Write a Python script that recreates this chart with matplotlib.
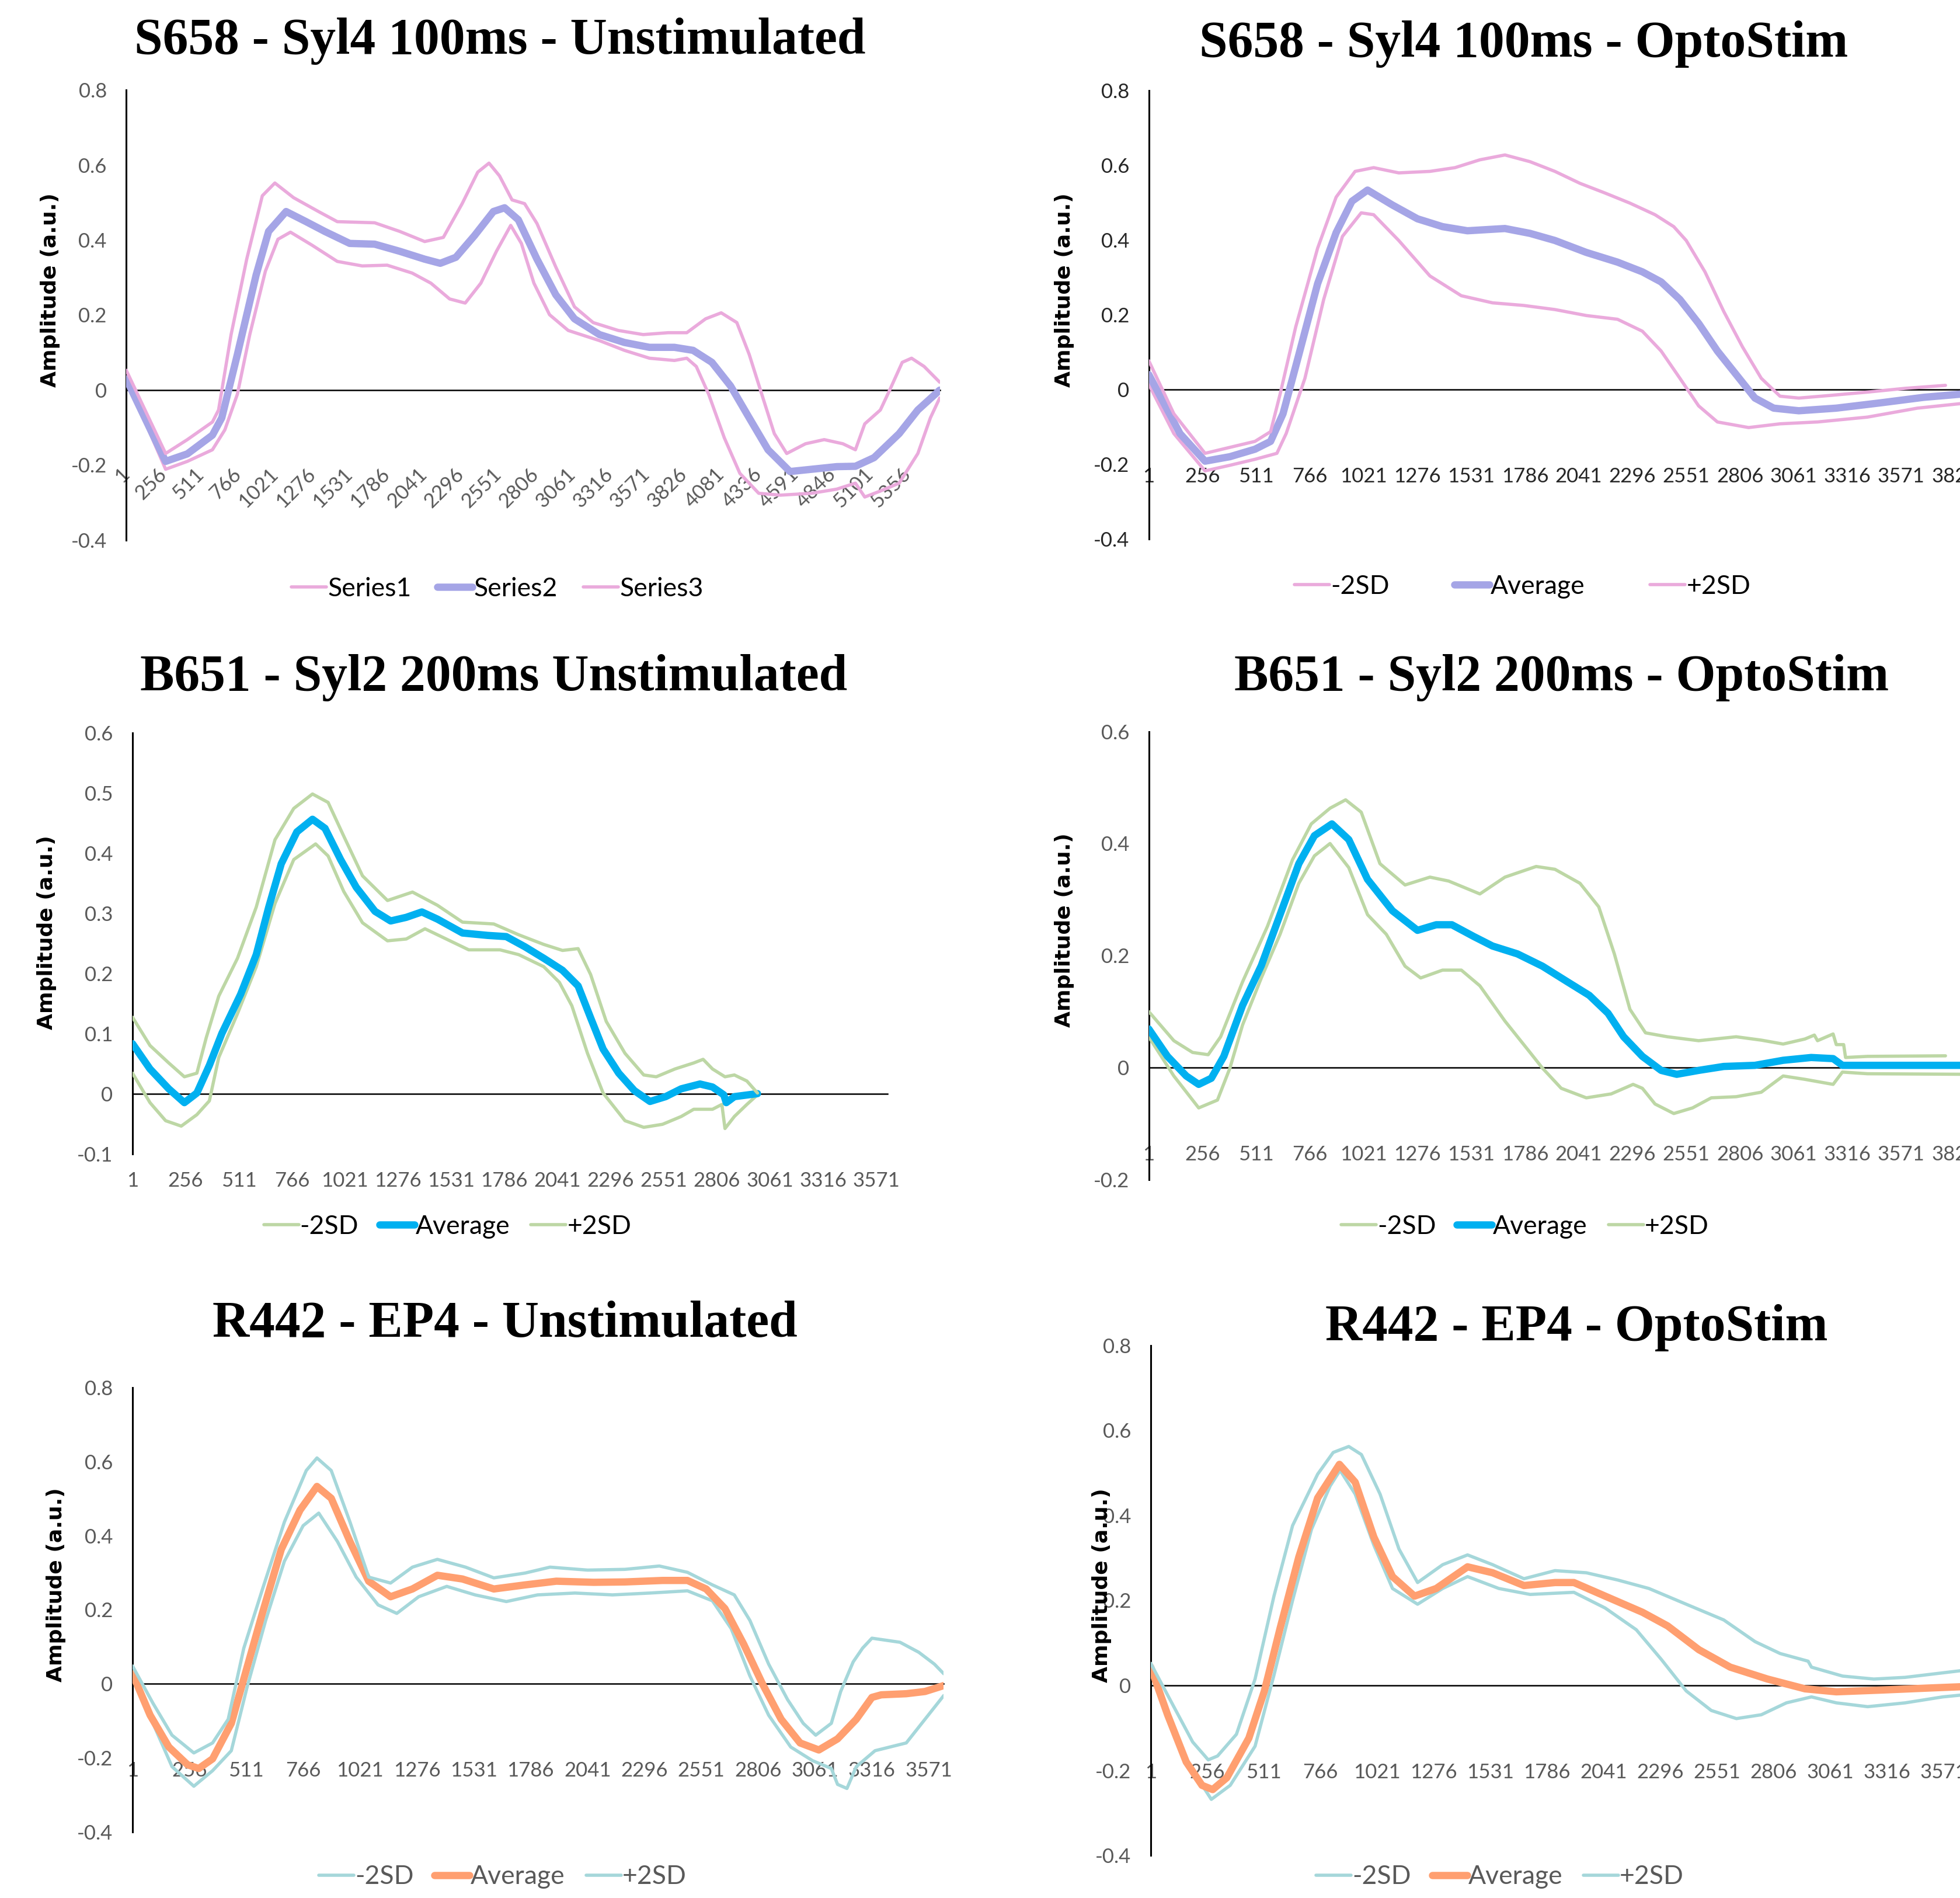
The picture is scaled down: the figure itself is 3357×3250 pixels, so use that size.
import matplotlib
matplotlib.use("Agg")
import matplotlib.pyplot as plt

PINK = "#EAAADC"
LAVENDER = "#A5A5E6"
GREEN = "#BDD7A5"
BLUE = "#00B0F0"
TEAL = "#A5D7DA"
SALMON = "#FF9F70"

# ---------------- S658 - Syl4 100ms - Unstimulated ----------------
s658u_lo_x = [1, 271, 420, 592, 677, 763, 848, 955, 1041, 1127, 1276, 1448, 1619, 1790, 1961, 2090,
              2218, 2325, 2432, 2539, 2637, 2710, 2796, 2903, 3031, 3245, 3416, 3588, 3759, 3844,
              3909, 3994, 4101, 4208, 4337, 4486, 4700, 4872, 5000, 5064, 5171, 5300, 5428, 5514, 5578]
s658u_lo_y = [0.032, -0.211, -0.19, -0.159, -0.106, -0.011, 0.148, 0.317, 0.402, 0.421, 0.386, 0.343,
              0.331, 0.333, 0.312, 0.285, 0.243, 0.232, 0.285, 0.37, 0.439, 0.391, 0.285, 0.201, 0.159,
              0.132, 0.106, 0.085, 0.079, 0.085, 0.063, -0.011, -0.127, -0.222, -0.275, -0.28, -0.275,
              -0.264, -0.248, -0.285, -0.269, -0.248, -0.169, -0.074, -0.021]
s658u_avg_x = [1, 271, 420, 592, 656, 763, 891, 977, 1097, 1234, 1362, 1533, 1704, 1876, 2047, 2154,
               2261, 2389, 2518, 2595, 2689, 2817, 2946, 3074, 3245, 3416, 3588, 3759, 3887, 4016,
               4144, 4272, 4401, 4551, 4700, 4872, 5000, 5128, 5300, 5428, 5578]
s658u_avg_y = [0.03, -0.19, -0.17, -0.12, -0.074, 0.095, 0.306, 0.423, 0.476, 0.449, 0.423, 0.391,
               0.389, 0.37, 0.349, 0.338, 0.354, 0.412, 0.476, 0.486, 0.454, 0.349, 0.254, 0.19, 0.148,
               0.127, 0.114, 0.114, 0.106, 0.074, 0.011, -0.074, -0.159, -0.217, -0.211, -0.204,
               -0.203, -0.18, -0.116, -0.053, 0.0]
s658u_hi_x = [1, 271, 420, 592, 634, 720, 827, 934, 1020, 1148, 1319, 1448, 1704, 1876, 2047, 2175,
              2304, 2411, 2488, 2560, 2646, 2732, 2817, 2946, 3074, 3202, 3374, 3545, 3716, 3844, 3973,
              4080, 4187, 4272, 4358, 4444, 4529, 4658, 4786, 4914, 5000, 5064, 5171, 5235, 5321,
              5385, 5471, 5578]
s658u_hi_y = [0.053, -0.169, -0.132, -0.085, -0.053, 0.148, 0.349, 0.518, 0.552, 0.513, 0.476, 0.449,
              0.446, 0.423, 0.396, 0.407, 0.497, 0.581, 0.605, 0.571, 0.507, 0.497, 0.444, 0.328,
              0.222, 0.18, 0.159, 0.148, 0.153, 0.153, 0.19, 0.206, 0.18, 0.095, -0.011, -0.116,
              -0.169, -0.143, -0.132, -0.143, -0.159, -0.09, -0.053, 0.0, 0.074, 0.085, 0.063, 0.021]

# ---------------- S658 - Syl4 100ms - OptoStim ----------------
s658o_lo_x = [1, 120, 268, 386, 505, 609, 653, 742, 831, 920, 1009, 1068, 1187, 1335, 1484, 1632,
              1780, 1928, 2077, 2225, 2343, 2432, 2521, 2610, 2699, 2847, 2996, 3174, 3411, 3648, 3885]
s658o_lo_y = [0.014, -0.118, -0.218, -0.203, -0.187, -0.171, -0.118, 0.03, 0.241, 0.41, 0.473, 0.468,
              0.399, 0.304, 0.251, 0.232, 0.225, 0.214, 0.198, 0.188, 0.156, 0.103, 0.03, -0.044,
              -0.087, -0.102, -0.092, -0.087, -0.074, -0.05, -0.036]
s658o_avg_x = [1, 149, 268, 386, 505, 579, 638, 713, 802, 890, 965, 1039, 1157, 1276, 1395, 1513,
               1691, 1810, 1928, 2077, 2225, 2343, 2432, 2521, 2610, 2699, 2788, 2877, 2966, 3085,
               3263, 3470, 3678, 3885]
s658o_avg_y = [0.04, -0.118, -0.192, -0.18, -0.16, -0.139, -0.065, 0.093, 0.283, 0.42, 0.504, 0.534,
               0.494, 0.457, 0.436, 0.425, 0.431, 0.418, 0.399, 0.367, 0.341, 0.315, 0.288, 0.241,
               0.177, 0.103, 0.04, -0.023, -0.05, -0.057, -0.05, -0.036, -0.021, -0.011]
s658o_hi_x = [1, 120, 268, 386, 505, 579, 624, 698, 802, 890, 980, 1068, 1187, 1335, 1454, 1572, 1691,
              1810, 1928, 2047, 2166, 2284, 2403, 2492, 2551, 2640, 2729, 2818, 2907, 2996, 3085, 3233,
              3411, 3589, 3781]
s658o_hi_y = [0.077, -0.065, -0.171, -0.155, -0.139, -0.113, -0.013, 0.167, 0.378, 0.515, 0.584, 0.594,
              0.58, 0.584, 0.594, 0.615, 0.628, 0.61, 0.584, 0.552, 0.526, 0.499, 0.468, 0.436, 0.399,
              0.315, 0.209, 0.114, 0.03, -0.018, -0.023, -0.016, -0.007, 0.003, 0.011]

# ---------------- B651 - Syl2 200ms Unstimulated ----------------
b651u_lo_x = [1, 85, 160, 235, 310, 370, 415, 505, 595, 685, 775, 880, 940, 1015, 1105, 1225, 1315,
              1405, 1495, 1615, 1765, 1855, 1975, 2050, 2110, 2185, 2260, 2365, 2455, 2545, 2635, 2695,
              2785, 2830, 2845, 2890, 2950, 3001]
b651u_lo_y = [0.034, -0.015, -0.045, -0.054, -0.035, -0.012, 0.06, 0.133, 0.211, 0.316, 0.389, 0.415,
              0.395, 0.336, 0.284, 0.254, 0.257, 0.274, 0.259, 0.239, 0.239, 0.231, 0.211, 0.185, 0.146,
              0.067, 0.001, -0.045, -0.056, -0.051, -0.038, -0.026, -0.026, -0.018, -0.058, -0.038,
              -0.018, -0.002]
b651u_avg_x = [1, 85, 175, 250, 310, 370, 430, 520, 595, 655, 715, 790, 865, 925, 1000, 1075, 1165,
               1240, 1315, 1390, 1465, 1585, 1705, 1795, 1885, 1975, 2065, 2140, 2200, 2260, 2335, 2410,
               2485, 2560, 2635, 2725, 2785, 2839, 2851, 2890, 3001]
b651u_avg_y = [0.083, 0.041, 0.008, -0.015, 0.001, 0.047, 0.1, 0.165, 0.231, 0.31, 0.382, 0.435, 0.456,
               0.441, 0.389, 0.343, 0.303, 0.287, 0.293, 0.302, 0.29, 0.267, 0.263, 0.261, 0.244, 0.225,
               0.205, 0.179, 0.126, 0.074, 0.034, 0.005, -0.013, -0.005, 0.008, 0.016, 0.011, -0.002,
               -0.015, -0.005, 0.0]
b651u_hi_x = [1, 85, 175, 250, 310, 355, 415, 505, 595, 685, 775, 865, 940, 1015, 1105, 1225, 1345,
              1465, 1585, 1735, 1855, 1975, 2065, 2140, 2200, 2275, 2365, 2455, 2515, 2605, 2695, 2740,
              2785, 2845, 2890, 2950, 3001]
b651u_hi_y = [0.127, 0.08, 0.051, 0.028, 0.034, 0.093, 0.162, 0.225, 0.31, 0.422, 0.474, 0.498, 0.484,
              0.428, 0.362, 0.321, 0.335, 0.313, 0.285, 0.282, 0.264, 0.248, 0.238, 0.241, 0.198, 0.12,
              0.067, 0.031, 0.028, 0.041, 0.051, 0.057, 0.041, 0.028, 0.031, 0.021, 0.001]

# ---------------- B651 - Syl2 200ms - OptoStim ----------------
b651o_lo_x = [1, 120, 238, 327, 386, 446, 535, 624, 713, 787, 861, 950, 1039, 1128, 1217, 1291, 1395,
              1484, 1572, 1691, 1810, 1869, 1958, 2077, 2195, 2299, 2343, 2403, 2492, 2581, 2670, 2788,
              2907, 3011, 3114, 3248, 3292, 3411, 3885]
b651o_lo_y = [0.055, -0.015, -0.072, -0.058, -0.001, 0.076, 0.16, 0.238, 0.329, 0.378, 0.4, 0.357,
              0.273, 0.238, 0.181, 0.16, 0.174, 0.174, 0.146, 0.083, 0.027, -0.001, -0.037, -0.054,
              -0.047, -0.03, -0.037, -0.065, -0.082, -0.072, -0.054, -0.052, -0.044, -0.015, -0.021,
              -0.03, -0.008, -0.011, -0.012]
b651o_avg_x = [1, 90, 179, 238, 298, 357, 446, 535, 624, 713, 787, 870, 950, 1039, 1157, 1276, 1365,
               1439, 1543, 1632, 1750, 1869, 1988, 2091, 2180, 2254, 2343, 2432, 2506, 2610, 2729, 2877,
               3011, 3144, 3248, 3292, 3411, 3885]
b651o_avg_y = [0.069, 0.02, -0.015, -0.03, -0.019, 0.02, 0.111, 0.182, 0.273, 0.364, 0.414, 0.435,
               0.407, 0.336, 0.28, 0.245, 0.255, 0.255, 0.234, 0.217, 0.203, 0.181, 0.153, 0.129, 0.097,
               0.055, 0.02, -0.005, -0.012, -0.005, 0.002, 0.004, 0.013, 0.018, 0.016, 0.004, 0.004,
               0.004]
b651o_hi_x = [1, 120, 209, 283, 342, 446, 564, 683, 772, 861, 935, 1009, 1098, 1217, 1335, 1424, 1572,
              1691, 1839, 1928, 2047, 2136, 2210, 2284, 2358, 2462, 2610, 2788, 2907, 3011, 3114, 3159,
              3174, 3248, 3263, 3298, 3307, 3411, 3781]
b651o_hi_y = [0.1, 0.048, 0.027, 0.023, 0.055, 0.153, 0.252, 0.371, 0.435, 0.463, 0.478, 0.456, 0.364,
              0.326, 0.34, 0.333, 0.31, 0.34, 0.359, 0.354, 0.329, 0.287, 0.203, 0.104, 0.062, 0.055,
              0.048, 0.055, 0.049, 0.042, 0.051, 0.058, 0.048, 0.06, 0.041, 0.041, 0.018, 0.02, 0.021]

# ---------------- R442 - EP4 - Unstimulated ----------------
r442u_lo_x = [1, 93, 178, 276, 360, 444, 514, 598, 682, 766, 836, 920, 1004, 1102, 1186, 1284, 1410,
              1537, 1677, 1817, 1985, 2153, 2321, 2489, 2601, 2685, 2769, 2853, 2952, 3050, 3134, 3162,
              3204, 3246, 3330, 3470, 3554, 3638]
r442u_lo_y = [0.032, -0.107, -0.224, -0.277, -0.235, -0.181, -0.011, 0.171, 0.331, 0.427, 0.461, 0.384,
              0.288, 0.213, 0.19, 0.235, 0.263, 0.24, 0.222, 0.24, 0.245, 0.24, 0.245, 0.251, 0.224,
              0.149, 0.021, -0.085, -0.171, -0.208, -0.229, -0.272, -0.283, -0.224, -0.181, -0.16,
              -0.096, -0.032]
r442u_avg_x = [1, 80, 164, 248, 298, 360, 444, 514, 584, 668, 752, 828, 892, 976, 1060, 1158, 1256,
               1368, 1480, 1621, 1761, 1901, 2069, 2209, 2377, 2489, 2573, 2657, 2741, 2825, 2909, 2994,
               3078, 3162, 3246, 3316, 3358, 3470, 3554, 3638]
r442u_avg_y = [0.027, -0.085, -0.171, -0.219, -0.229, -0.203, -0.107, 0.043, 0.192, 0.363, 0.469, 0.533,
               0.501, 0.384, 0.277, 0.235, 0.256, 0.293, 0.283, 0.256, 0.267, 0.277, 0.274, 0.275,
               0.279, 0.279, 0.256, 0.203, 0.107, 0.0, -0.096, -0.16, -0.179, -0.149, -0.096, -0.037,
               -0.03, -0.027, -0.021, -0.005]
r442u_hi_x = [1, 93, 178, 276, 360, 430, 500, 584, 682, 780, 828, 892, 976, 1060, 1158, 1256, 1368,
              1494, 1621, 1761, 1873, 2041, 2209, 2363, 2489, 2601, 2699, 2769, 2853, 2938, 3008, 3064,
              3134, 3176, 3232, 3274, 3316, 3442, 3526, 3596, 3638]
r442u_hi_y = [0.048, -0.053, -0.139, -0.187, -0.16, -0.096, 0.096, 0.256, 0.437, 0.576, 0.61, 0.576,
              0.437, 0.288, 0.272, 0.315, 0.336, 0.315, 0.286, 0.299, 0.315, 0.307, 0.309, 0.318, 0.301,
              0.267, 0.24, 0.171, 0.053, -0.043, -0.107, -0.139, -0.107, -0.021, 0.059, 0.096, 0.123,
              0.112, 0.085, 0.053, 0.027]

# ---------------- R442 - EP4 - OptoStim ----------------
r442o_lo_x = [1, 91, 176, 274, 359, 471, 556, 640, 725, 809, 854, 922, 1006, 1090, 1203, 1316, 1428,
              1569, 1710, 1907, 2048, 2188, 2301, 2413, 2526, 2639, 2751, 2864, 2977, 3089, 3230, 3399,
              3568, 3703]
r442o_lo_y = [0.043, -0.087, -0.189, -0.268, -0.235, -0.143, 0.024, 0.2, 0.367, 0.469, 0.506, 0.45,
              0.33, 0.228, 0.191, 0.228, 0.256, 0.228, 0.214, 0.219, 0.182, 0.131, 0.061, -0.013,
              -0.059, -0.078, -0.069, -0.041, -0.027, -0.041, -0.05, -0.041, -0.027, -0.02]
r442o_avg_x = [1, 77, 161, 232, 280, 344, 443, 513, 584, 668, 753, 851, 922, 1006, 1090, 1189, 1287,
               1428, 1541, 1682, 1822, 1907, 2048, 2216, 2329, 2470, 2611, 2779, 2948, 3089, 3286, 3511,
               3703]
r442o_avg_y = [0.043, -0.069, -0.18, -0.235, -0.245, -0.217, -0.124, -0.013, 0.135, 0.302, 0.441, 0.52,
               0.478, 0.349, 0.256, 0.21, 0.228, 0.279, 0.265, 0.235, 0.242, 0.242, 0.21, 0.172, 0.14,
               0.084, 0.043, 0.015, -0.008, -0.015, -0.011, -0.006, -0.002]
r442o_hi_x = [1, 105, 190, 260, 302, 387, 471, 556, 640, 753, 823, 893, 950, 1034, 1119, 1203, 1316,
              1428, 1541, 1682, 1822, 1963, 2104, 2245, 2413, 2582, 2723, 2836, 2962, 2977, 3117, 3258,
              3399, 3511, 3703]
r442o_hi_y = [0.052, -0.05, -0.133, -0.175, -0.166, -0.115, 0.015, 0.21, 0.376, 0.497, 0.548, 0.562,
              0.543, 0.45, 0.321, 0.242, 0.284, 0.307, 0.284, 0.251, 0.27, 0.265, 0.248, 0.228, 0.191,
              0.154, 0.103, 0.075, 0.057, 0.043, 0.022, 0.015, 0.019, 0.026, 0.038]

ticks_5356 = [1, 256, 511, 766, 1021, 1276, 1531, 1786, 2041, 2296, 2551, 2806, 3061, 3316, 3571,
              3826, 4081, 4336, 4591, 4846, 5101, 5356]
ticks_3826 = [1, 256, 511, 766, 1021, 1276, 1531, 1786, 2041, 2296, 2551, 2806, 3061, 3316, 3571, 3826]
ticks_3571 = [1, 256, 511, 766, 1021, 1276, 1531, 1786, 2041, 2296, 2551, 2806, 3061, 3316, 3571]
yticks_a = [-0.4, -0.2, 0, 0.2, 0.4, 0.6, 0.8]
ylabels_a = ["-0.4", "-0.2", "0", "0.2", "0.4", "0.6", "0.8"]
yticks_b = [-0.1, 0, 0.1, 0.2, 0.3, 0.4, 0.5, 0.6]
ylabels_b = ["-0.1", "0", "0.1", "0.2", "0.3", "0.4", "0.5", "0.6"]
yticks_c = [-0.2, 0, 0.2, 0.4, 0.6]
ylabels_c = ["-0.2", "0", "0.2", "0.4", "0.6"]

legend_sd = ["-2SD", "Average", "+2SD"]
legend_series = ["Series1", "Series2", "Series3"]

panels = [
    dict(title="S658 - Syl4 100ms - Unstimulated", rect=[0.0644, 0.7154, 0.4152, 0.2372],
         xlim=5580, yticks=yticks_a, ylabels=ylabels_a, xticks=ticks_5356, rot=True,
         lo=(s658u_lo_x, s658u_lo_y), avg=(s658u_avg_x, s658u_avg_y), hi=(s658u_hi_x, s658u_hi_y),
         sd=PINK, mean=LAVENDER, names=legend_series, title_xy=(0.2551, 0.9783),
         ylab_xy=(0.0255, 0.8472), leg_xy=(0.2538, 0.6897), colsp=1.0, txt="black", tick="#595959"),
    dict(title="S658 - Syl4 100ms - OptoStim", rect=[0.5861, 0.7161, 0.4139, 0.2361],
         xlim=3850, yticks=yticks_a, ylabels=ylabels_a, xticks=ticks_3826, rot=False,
         lo=(s658o_lo_x, s658o_lo_y), avg=(s658o_avg_x, s658o_avg_y), hi=(s658o_hi_x, s658o_hi_y),
         sd=PINK, mean=LAVENDER, names=legend_sd, title_xy=(0.7774, 0.9769),
         ylab_xy=(0.543, 0.8472), leg_xy=(0.7768, 0.691), colsp=2.5, txt="black", tick="#262626"),
    dict(title="B651 - Syl2 200ms Unstimulated", rect=[0.0676, 0.3921, 0.3852, 0.2219],
         xlim=3625, yticks=yticks_b, ylabels=ylabels_b, xticks=ticks_3571, rot=False,
         lo=(b651u_lo_x, b651u_lo_y), avg=(b651u_avg_x, b651u_avg_y), hi=(b651u_hi_x, b651u_hi_y),
         sd=GREEN, mean=BLUE, names=legend_sd, title_xy=(0.2519, 0.643),
         ylab_xy=(0.0239, 0.5086), leg_xy=(0.2283, 0.3538), colsp=0.8, txt="black", tick="#595959"),
    dict(title="B651 - Syl2 200ms - OptoStim", rect=[0.5861, 0.3785, 0.4139, 0.2361],
         xlim=3850, yticks=yticks_c, ylabels=ylabels_c, xticks=ticks_3826, rot=False,
         lo=(b651o_lo_x, b651o_lo_y), avg=(b651o_avg_x, b651o_avg_y), hi=(b651o_hi_x, b651o_hi_y),
         sd=GREEN, mean=BLUE, names=legend_sd, title_xy=(0.7966, 0.643),
         ylab_xy=(0.543, 0.5099), leg_xy=(0.778, 0.3538), colsp=0.8, txt="black", tick="#595959"),
    dict(title="R442 - EP4 - Unstimulated", rect=[0.0676, 0.0349, 0.4139, 0.234],
         xlim=3638, yticks=yticks_a, ylabels=ylabels_a, xticks=ticks_3571, rot=False,
         lo=(r442u_lo_x, r442u_lo_y), avg=(r442u_avg_x, r442u_avg_y), hi=(r442u_hi_x, r442u_hi_y),
         sd=TEAL, mean=SALMON, names=legend_sd, title_xy=(0.2577, 0.3024),
         ylab_xy=(0.0287, 0.1649), leg_xy=(0.2564, 0.0112), colsp=0.8, txt="#595959", tick="#595959"),
    dict(title="R442 - EP4 - OptoStim", rect=[0.5871, 0.0224, 0.4129, 0.2688],
         xlim=3646, yticks=yticks_a, ylabels=ylabels_a, xticks=ticks_3571, rot=False,
         lo=(r442o_lo_x, r442o_lo_y), avg=(r442o_avg_x, r442o_avg_y), hi=(r442o_hi_x, r442o_hi_y),
         sd=TEAL, mean=SALMON, names=legend_sd, title_xy=(0.8045, 0.3004),
         ylab_xy=(0.5622, 0.1647), leg_xy=(0.7653, 0.0112), colsp=0.8, txt="#595959", tick="#595959"),
]

fig = plt.figure(figsize=(33.57, 32.5), dpi=100)

for p in panels:
    ax = fig.add_axes(p["rect"])
    # zero line as the x axis; set before ticks because it resets them
    ax.spines["bottom"].set_position(("data", 0))
    for s in ["top", "right"]:
        ax.spines[s].set_visible(False)
    ax.spines["bottom"].set_linewidth(1.8)
    ax.spines["left"].set_linewidth(2.2)
    ax.spines["bottom"].set_zorder(2)

    ax.plot(*p["lo"], color=p["sd"], lw=4.0, label=p["names"][0], zorder=3,
            solid_capstyle="round", solid_joinstyle="round")
    ax.plot(*p["avg"], color=p["mean"], lw=9.0, label=p["names"][1], zorder=4,
            solid_capstyle="round", solid_joinstyle="round")
    ax.plot(*p["hi"], color=p["sd"], lw=4.0, label=p["names"][2], zorder=5,
            solid_capstyle="round", solid_joinstyle="round")
    ax.set_xlim(1, p["xlim"])
    ax.set_ylim(p["yticks"][0], p["yticks"][-1])
    ax.set_yticks(p["yticks"])
    ax.set_yticklabels(p["ylabels"], fontfamily="Lato", fontsize=25, color=p["tick"])
    ax.set_xticks(p["xticks"])
    ax.set_xticklabels([str(t) for t in p["xticks"]], fontfamily="Lato", fontsize=25, color=p["tick"])
    ax.tick_params(axis="y", length=0, pad=24)
    if p["rot"]:
        ax.tick_params(axis="x", length=0, pad=100)
        for lab in ax.get_xticklabels():
            lab.set_rotation(45)
            lab.set_ha("right")
            lab.set_va("center")
            lab.set_rotation_mode("anchor")
    else:
        ax.tick_params(axis="x", length=0, pad=96)
    ax.patch.set_alpha(0)
    fig.text(*p["title_xy"], p["title"], ha="center", va="center", fontsize=63,
             fontweight="bold", fontfamily="Liberation Serif")
    fig.text(*p["ylab_xy"], "Amplitude (a.u.)", ha="center", va="center", rotation=90,
             fontsize=26, fontweight="bold", fontfamily="DejaVu Sans")
    leg = ax.legend(loc="center", bbox_to_anchor=p["leg_xy"], bbox_transform=fig.transFigure,
                    ncol=3, frameon=False, handlelength=1.35, handletextpad=0.05,
                    columnspacing=p["colsp"], prop={"family": "Lato", "size": 32})
    for t in leg.get_texts():
        t.set_color(p["txt"])

fig.savefig("out.png", dpi=100)
